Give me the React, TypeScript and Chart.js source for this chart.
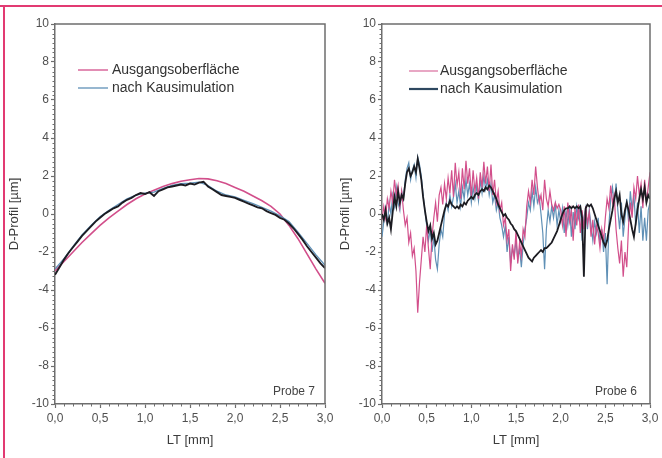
import React, { useEffect, useRef } from "react";
import { Chart, registerables } from "chart.js";

Chart.register(...registerables);

// ---------------- data ----------------
const SERIES_LABELS = ["Ausgangsoberfläche", "nach Kausimulation"];
const X_TITLE = "LT [mm]";
const Y_TITLE = "D-Profil [µm]";
const X_TICKS = [0, 0.5, 1, 1.5, 2, 2.5, 3];
const X_TICK_LABELS = ["0,0", "0,5", "1,0", "1,5", "2,0", "2,5", "3,0"];
const Y_TICKS = [-10, -8, -6, -4, -2, 0, 2, 4, 6, 8, 10];
const Y_TICK_LABELS = ["-10", "-8", "-6", "-4", "-2", "0", "2", "4", "6", "8", "10"];
const NOTES = ["Probe 7", "Probe 6"];

// Probe 7 (left panel)
const P7_STEP = 0.1;
const P7_PINK = [
  -3.0, -2.5, -2.0, -1.5, -1.05, -0.6, -0.2, 0.15, 0.5, 0.8,
  1.05, 1.25, 1.45, 1.6, 1.72, 1.8, 1.87, 1.85, 1.75, 1.6,
  1.4, 1.2, 0.95, 0.7, 0.4, 0.0, -0.6, -1.3, -2.1, -2.9,
  -3.65,
];
const P7_BLUE = [
  -2.9, -2.35, -1.7, -1.1, -0.6, -0.15, 0.2, 0.5, 0.8, 1.0,
  1.1, 1.15, 1.35, 1.5, 1.6, 1.62, 1.68, 1.5, 1.2, 1.0,
  0.9, 0.72, 0.55, 0.35, 0.15, -0.1, -0.4, -0.95, -1.55, -2.15,
  -2.7,
];
const P7_BLACK_STEP = 0.05;
const P7_BLACK = [
  -3.2, -2.8, -2.4, -2.05, -1.75, -1.45, -1.15, -0.9, -0.65, -0.4,
  -0.2, 0.0, 0.15, 0.3, 0.4, 0.6, 0.75, 0.85, 1.0, 1.1,
  1.05, 1.15, 0.95, 1.2, 1.3, 1.4, 1.45, 1.5, 1.55, 1.5,
  1.6, 1.55, 1.65, 1.7, 1.45, 1.3, 1.15, 1.0, 0.95, 0.9,
  0.85, 0.75, 0.65, 0.55, 0.45, 0.35, 0.3, 0.15, 0.05, -0.05,
  -0.2, -0.3, -0.5, -0.75, -1.05, -1.35, -1.7, -2.0, -2.3, -2.6,
  -2.85,
];

// Probe 6 (right panel)
const P6_STEP = 0.02;
const P6_PINK = [
  -0.3, 0.4, -0.2, 0.8, 0.3, 1.2, 0.6, 1.8, 1.0, 1.5,
  0.4, 1.2, 0.2, -0.6, -0.2, -1.5, -1.0, -2.2, -1.8, -3.0,
  -5.2, -3.6, -2.4, -1.2, -2.0, -0.6, -1.8, -2.9, -1.2, -0.2,
  0.6, -0.4, 1.0, 1.4, 0.5, 1.6, 0.8, 1.9, 1.1, 2.3,
  0.9, 2.7, 1.5, 2.2, 0.8, 2.4, 1.3, 2.8, 1.6, 2.4,
  0.9, 2.3, 1.2, 1.9, 0.8, 2.2, 1.4, 2.75, 1.6, 2.5,
  1.2, 2.6, 1.0, 1.8, 0.6, 1.2, 0.2, 0.6, -0.6, -0.2,
  -1.4, -0.8, -3.0, -1.6, -2.4, -0.9, -2.6, -1.5, -2.2, -0.8,
  -1.2, 0.4, 1.2, 0.6, 1.8, 1.0, 2.5, 1.4, 0.6, 1.0,
  0.2, 1.8, 0.8, 0.4, 1.2, 0.5, 0.2, 0.6, 0.3, 0.5,
  0.2, -0.6, 0.4, -1.2, 0.6, -0.4, 0.2, -1.4, 0.3, -0.6,
  0.5, -1.0, 0.2, -0.8, 0.4, -0.5, 0.1, -1.2, -0.3, -1.6,
  -0.6, -1.0, -1.8, -0.8, -1.4, -0.2, 0.8, 0.3, 1.5, 0.6,
  1.0, -0.8, -1.8, -2.6, -1.4, -3.3, -2.0, -2.8, -0.6, 0.6,
  -0.2, 1.4, 0.8, 2.0, 1.0, 1.6, 0.3, 1.8, 0.6, 1.4,
  2.2,
];
const P6_BLUE = [
  -1.2, -0.4, 0.3, -0.6, 0.6, 0.0, 1.0, 0.4, 1.4, 0.6,
  0.2, 1.2, 0.8, 1.8, 2.4, 2.7, 1.8, 2.3, 2.6, 1.9,
  3.0, 2.6, 2.0, 1.0, 0.2, -0.6, -1.4, -0.8, -2.0, -1.2,
  -2.4, -2.9, -1.6, -0.8, -1.2, 0.0, 0.6, 0.2, 1.0, 0.4,
  0.9, 1.6, 0.6, 1.2, 0.4, 1.4, 0.8, 1.8, 1.0, 1.6,
  0.6, 1.4, 0.8, 1.5, 0.7, 1.8, 1.1, 2.0, 1.3, 1.8,
  1.0, 1.6, 0.6, 1.0, 0.2, 0.6, -0.2, -0.6, -1.2, -0.6,
  -2.0, -1.2, -2.6, -1.8, -2.2, -1.4, -2.4, -1.8, -2.8, -1.6,
  -0.8, -0.2, 0.6, 0.2, 1.2, 0.4, 1.4, 0.6, 0.9, 0.0,
  -1.0, -2.9, -0.8, 0.2, -0.4, 0.4, -0.2, 0.5, -0.6, 0.2,
  -0.4, 0.3, -1.0, 0.2, -0.6, 0.4, -1.2, 0.1, -0.8, 0.4,
  -0.2, 0.5, -1.4, -0.2, 0.3, -0.8, 0.2, -0.6, -1.4, -0.4,
  -1.0, -0.2, -1.6, -0.8, -2.0, -1.0, -3.7, -0.6, 0.8, 1.4,
  0.4, 1.6, 0.2, -0.8, 0.6, -1.2, -0.2, 0.8, -0.4, 1.2,
  0.2, 1.0, -0.6, 0.6, -1.0, 0.4, -1.4, -0.2, -1.4, 0.2,
  0.6,
];
const P6_BLACK = [
  0.0, -0.3, 0.2, -0.5, -0.2, -0.8, 0.1, 0.9, 0.4, 1.2,
  0.6, 1.0, 0.8, 1.6, 2.2, 2.4, 2.0, 2.2, 2.5, 2.2,
  2.9, 2.4, 1.8, 0.9, 0.2, -0.4, -0.9, -0.6, -1.3, -1.0,
  -1.6, -1.4, -1.0, -0.6, -0.2, 0.2, 0.5, 0.4, 0.7, 0.5,
  0.4, 0.3, 0.4, 0.3, 0.5, 0.4, 0.6, 0.5, 0.7, 0.8,
  0.9, 0.8, 1.0, 1.1, 1.0, 1.2, 1.3, 1.2, 1.4, 1.3,
  1.5, 1.4, 1.2, 1.0, 0.8, 0.5, 0.3, 0.1, -0.1, 0.0,
  -0.2, -0.3, -0.5, -0.6, -0.8, -0.9, -1.1, -1.3, -1.5, -1.7,
  -1.9, -2.1, -2.3, -2.4, -2.5, -2.3, -2.2, -2.1, -2.0, -1.9,
  -2.0, -1.8, -1.8, -1.7, -1.6, -1.5, -1.3, -1.1, -0.9, -0.6,
  -0.3, 0.0, 0.2, 0.3, 0.3, 0.4, 0.3, 0.4, 0.3, 0.4,
  0.3, 0.4, -0.2, -3.3, 0.3, 0.5, 0.4, 0.5, 0.3, 0.0,
  -0.3, -0.6, -0.9, -1.2, -1.5, -1.7, -1.4, -0.8, -0.3, 0.2,
  0.8, 1.2, 0.6, 1.0, 0.0, -0.4, 0.2, 0.6, 0.2, -0.3,
  -0.8, -1.2, -0.5, 0.2, 0.8, 1.3, 0.8, 1.4, 0.6, 1.0,
  0.8,
];

// ---------------- styling ----------------
const FONT = "'Liberation Sans', Arial, Helvetica, sans-serif";
const AXIS = "#6e6e6e";
const TICK_TXT = "#505050";
const TITLE_TXT = "#3c3c3c";
const PINK = "#d24f8b";
const BLUE = "#5f90b6";
const BLACK = "#1c1c22";
const BORDER_PINK = "#e23a72";

const toPoints = (vals: number[], step: number) =>
  vals.map((y, i) => ({ x: Math.round(i * step * 1000) / 1000, y }));

const decorPlugin = {
  id: "decor",
  afterDraw(chart: any, _args: any, opts: any) {
    const { ctx, chartArea: a, scales } = chart;
    ctx.save();
    // top/right frame
    ctx.strokeStyle = AXIS;
    ctx.lineWidth = 1.5;
    ctx.beginPath();
    ctx.moveTo(a.left, a.top);
    ctx.lineTo(a.right, a.top);
    ctx.lineTo(a.right, a.bottom);
    ctx.stroke();
    // minor ticks
    ctx.lineWidth = 1;
    ctx.beginPath();
    for (let k = -40; k <= 40; k++) {
      if (k % 8 === 0) continue;
      const py = Math.round(scales.y.getPixelForValue(k / 4)) + 0.5;
      ctx.moveTo(a.left - 2.5, py);
      ctx.lineTo(a.left, py);
    }
    for (let k = 0; k <= 30; k++) {
      if (k % 5 === 0) continue;
      const px = Math.round(scales.x.getPixelForValue(k / 10)) + 0.5;
      ctx.moveTo(px, a.bottom);
      ctx.lineTo(px, a.bottom + 2.5);
    }
    ctx.stroke();
    // legend
    ctx.font = `14px ${FONT}`;
    ctx.textBaseline = "middle";
    ctx.textAlign = "left";
    (opts.legend || []).forEach((it: any, i: number) => {
      const y = a.top + opts.legendTop + i * 18;
      ctx.strokeStyle = it.color;
      ctx.lineWidth = it.width;
      ctx.beginPath();
      ctx.moveTo(a.left + opts.lx0, y);
      ctx.lineTo(a.left + opts.lx1, y);
      ctx.stroke();
      ctx.fillStyle = "#333333";
      ctx.fillText(chart.data.datasets[it.ds].label, a.left + opts.tx, y + 0.5);
    });
    // sample note
    ctx.font = `12px ${FONT}`;
    ctx.textAlign = "right";
    ctx.fillStyle = "#444444";
    ctx.fillText(opts.note, a.right - opts.noteRight, a.bottom - 12);
    ctx.restore();
  },
};

type SeriesDef = { label: string; data: { x: number; y: number }[]; color: string; width: number; order: number };
type PanelDef = {
  series: SeriesDef[];
  yWidth: number;
  padRight: number;
  decor: any;
};

function buildConfig(def: PanelDef): any {
  return {
    type: "line",
    data: {
      datasets: def.series.map((s) => ({
        label: s.label,
        data: s.data,
        borderColor: s.color,
        borderWidth: s.width,
        pointRadius: 0,
        pointHoverRadius: 0,
        tension: 0,
        fill: false,
        order: s.order,
      })),
    },
    plugins: [decorPlugin],
    options: {
      responsive: false,
      maintainAspectRatio: false,
      animation: false,
      devicePixelRatio: 1,
      events: [],
      layout: { padding: { top: 24, right: def.padRight, bottom: 0, left: 0 } },
      plugins: {
        legend: { display: false },
        tooltip: { enabled: false },
        decor: def.decor,
      },
      scales: {
        x: {
          type: "linear",
          min: 0,
          max: 3,
          afterBuildTicks: (s: any) => {
            s.ticks = X_TICKS.map((v) => ({ value: v }));
          },
          afterFit: (s: any) => {
            s.height = 54;
          },
          ticks: {
            autoSkip: false,
            maxRotation: 0,
            padding: 3,
            color: TICK_TXT,
            font: { family: FONT, size: 12 },
            callback: (_v: any, i: number) => X_TICK_LABELS[i],
          },
          grid: { drawOnChartArea: false, drawTicks: true, tickLength: 4, tickColor: AXIS, tickWidth: 1.2 },
          border: { display: true, color: AXIS, width: 1.5 },
          title: {
            display: true,
            text: X_TITLE,
            color: TITLE_TXT,
            font: { family: FONT, size: 13 },
            padding: { top: 2, bottom: 10 },
          },
        },
        y: {
          type: "linear",
          min: -10,
          max: 10,
          afterBuildTicks: (s: any) => {
            s.ticks = Y_TICKS.map((v) => ({ value: v }));
          },
          afterFit: (s: any) => {
            s.width = def.yWidth;
          },
          ticks: {
            autoSkip: false,
            padding: 2,
            color: TICK_TXT,
            font: { family: FONT, size: 12 },
            callback: (_v: any, i: number) => Y_TICK_LABELS[i],
          },
          grid: { drawOnChartArea: false, drawTicks: true, tickLength: 4, tickColor: AXIS, tickWidth: 1.2 },
          border: { display: true, color: AXIS, width: 1.5 },
          title: {
            display: true,
            text: Y_TITLE,
            color: TITLE_TXT,
            font: { family: FONT, size: 13 },
            padding: 7,
          },
        },
      },
    },
  };
}

const LEFT_PANEL: PanelDef = {
  series: [
    { label: SERIES_LABELS[0], data: toPoints(P7_PINK, P7_STEP), color: PINK, width: 1.6, order: 3 },
    { label: SERIES_LABELS[1], data: toPoints(P7_BLUE, P7_STEP), color: BLUE, width: 1.3, order: 2 },
    { label: "", data: toPoints(P7_BLACK, P7_BLACK_STEP), color: BLACK, width: 1.9, order: 1 },
  ],
  yWidth: 55,
  padRight: 20,
  decor: {
    legend: [
      { ds: 0, color: PINK, width: 1.3 },
      { ds: 1, color: BLUE, width: 1.3 },
    ],
    legendTop: 46,
    lx0: 23,
    lx1: 53,
    tx: 57,
    note: NOTES[0],
    noteRight: 10,
  },
};

const RIGHT_PANEL: PanelDef = {
  series: [
    { label: SERIES_LABELS[0], data: toPoints(P6_PINK, P6_STEP), color: PINK, width: 1.2, order: 2 },
    { label: SERIES_LABELS[1], data: toPoints(P6_BLUE, P6_STEP), color: BLUE, width: 1.2, order: 3 },
    { label: "", data: toPoints(P6_BLACK, P6_STEP), color: BLACK, width: 1.8, order: 1 },
  ],
  yWidth: 51,
  padRight: 12,
  decor: {
    legend: [
      { ds: 0, color: "#e08ab0", width: 1.5 },
      { ds: 1, color: "#2e4860", width: 2.2 },
    ],
    legendTop: 47,
    lx0: 27,
    lx1: 56,
    tx: 58,
    note: NOTES[1],
    noteRight: 13,
  },
};

function Panel({ def, left, width }: { def: PanelDef; left: number; width: number }) {
  const ref = useRef<HTMLCanvasElement | null>(null);
  useEffect(() => {
    const chart = new Chart(ref.current as HTMLCanvasElement, buildConfig(def));
    return () => chart.destroy();
  }, [def]);
  return (
    <canvas
      ref={ref}
      width={width}
      height={458}
      style={{ position: "absolute", left, top: 0, width, height: 458 }}
    />
  );
}

export default function App() {
  return (
    <div style={{ position: "absolute", left: 0, top: 0, width: 662, height: 458, background: "#ffffff", overflow: "hidden" }}>
      <div style={{ position: "absolute", left: 0, top: 5, width: 662, height: 2, background: BORDER_PINK }} />
      <div style={{ position: "absolute", left: 3, top: 5, width: 2, height: 453, background: BORDER_PINK }} />
      <Panel def={LEFT_PANEL} left={0} width={345} />
      <Panel def={RIGHT_PANEL} left={331} width={331} />
    </div>
  );
}
